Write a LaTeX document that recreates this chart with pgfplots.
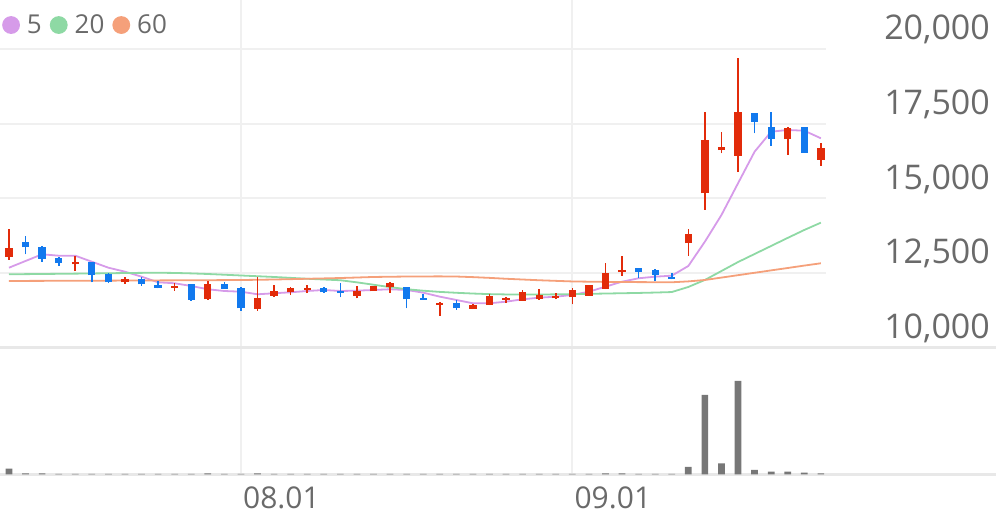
\documentclass[border=0pt]{standalone}
\usepackage{pgfplots}
\pgfplotsset{compat=1.18}
\usepackage{pgfplotstable}
\usepackage{fontspec}
\setmainfont{Open Sans}

\definecolor{up}{HTML}{E22B0A}
\definecolor{down}{HTML}{1279EE}
\definecolor{maA}{HTML}{D69BE9}
\definecolor{maB}{HTML}{8ED9A4}
\definecolor{maC}{HTML}{F5A07A}
\definecolor{vol}{HTML}{777777}
\definecolor{gridc}{HTML}{F0F0F0}
\definecolor{basec}{HTML}{E8E8E8}
\definecolor{txt}{HTML}{6A6A6A}

% rising days (red): open, high, low, close
\pgfplotstableread{
i o h l c
0 13050 13980 12940 13350
4 12795 13085 12570 12880
7 12190 12360 12135 12295
10 12010 12180 11900 12070
12 11620 12245 11600 12125
15 11290 12380 11240 11675
16 11745 12100 11710 11910
17 11855 12045 11765 12010
18 11935 12100 11825 11990
21 11745 12070 11655 11910
22 11910 12080 11910 12080
23 12025 12210 11845 12160
26 11430 11540 11065 11490
28 11300 11460 11295 11430
29 11430 11800 11430 11735
30 11600 11710 11510 11655
31 11575 11935 11575 11875
32 11620 11960 11600 11765
33 11655 11825 11620 11735
34 11690 11990 11455 11935
35 11745 12110 11740 12100
36 11970 12830 11965 12495
37 12530 13085 12415 12605
41 13500 13970 13075 13800
42 15175 17890 14615 16960
43 16625 17220 16515 16715
44 16425 19700 15880 17910
47 16985 17385 16460 17355
49 16290 16870 16090 16685
}\upc

% falling days (blue)
\pgfplotstableread{
i o h l c
1 13530 13750 13130 13365
2 13385 13410 12880 12975
3 13015 13050 12750 12830
5 12880 12885 12190 12435
6 12460 12515 12160 12190
8 12295 12380 12080 12125
9 12100 12235 11990 12010
11 12125 12135 11575 11600
13 12135 12210 11980 11980
14 12010 12025 11240 11320
19 12010 12045 11845 11855
20 11900 12180 11690 11825
24 12025 12025 11320 11620
25 11675 11800 11600 11600
27 11490 11600 11265 11320
38 12680 12680 12345 12545
39 12605 12630 12235 12435
40 12380 12495 12290 12295
45 17875 17875 17185 17575
46 17405 17890 16760 16985
48 17385 17390 16535 16535
}\downc

% moving averages 5 / 20 / 60
\pgfplotstableread{
i a b c
0 12681 12460 12236
1 12906 12465 12238
2 13130 12470 12240
3 13083 12476 12241
4 13083 12482 12243
5 12882 12488 12245
6 12681 12495 12247
7 12547 12502 12250
8 12380 12508 12252
9 12192 12512 12255
10 12159 12505 12257
11 12068 12490 12260
12 11958 12470 12262
13 11900 12445 12265
14 11877 12420 12268
15 11790 12395 12276
16 11824 12370 12285
17 11857 12340 12297
18 11900 12310 12310
19 11934 12285 12322
20 11900 12260 12335
21 11911 12190 12352
22 11934 12110 12370
23 11958 12030 12378
24 11934 11960 12385
25 11844 11910 12388
26 11710 11870 12390
27 11599 11840 12385
28 11488 11815 12365
29 11488 11795 12340
30 11542 11785 12310
31 11622 11780 12285
32 11676 11782 12260
33 11710 11788 12240
34 11767 11795 12220
35 11877 11805 12212
36 12045 11815 12205
37 12212 11825 12200
38 12326 11835 12198
39 12380 11848 12195
40 12413 11865 12192
41 12738 12035 12222
42 13553 12270 12269
43 14447 12570 12350
44 15510 12870 12430
45 16569 13140 12511
46 17239 13410 12591
47 17296 13680 12671
48 17272 13945 12752
49 17018 14190 12829
}\matab

\pgfplotstableread{
i v
0 171
1 30
2 30
3 15
4 15
5 15
6 15
7 15
8 15
9 15
10 15
11 15
12 30
13 15
14 12
15 25
16 15
17 15
18 15
19 15
20 15
21 15
22 15
23 15
24 15
25 15
26 15
27 15
28 15
29 15
30 15
31 15
32 15
33 15
34 12
35 15
36 30
37 30
38 15
39 15
40 15
41 225
42 2380
43 330
44 2800
45 130
46 80
47 80
48 50
49 30
}\voltab

\pgfplotsset{
  candle/.style 2 args={only marks, mark=none,
    mark options={draw opacity=0, fill opacity=0},
    color=#1, forget plot,
    error bars/.cd, y dir=plus, y explicit, error mark=none,
    error bar style={line width=#2}},
}

\begin{document}
\begin{tikzpicture}
\path[use as bounding box] (0pt,0pt) rectangle (996pt,519pt);

% price panel
\begin{axis}[
  at={(0pt,171.3pt)}, anchor=south west, scale only axis,
  width=826pt, height=347.7pt,
  xmin=-0.543, xmax=49.31, ymin=10000, ymax=21652,
  axis line style={draw=none}, major tick length=0pt,
  xtick={14,34}, xticklabels={}, xmajorgrids,
  ytick={10000,12500,15000,17500,20000}, ymajorgrids,
  grid style={draw=gridc, line width=2pt},
  scaled y ticks=false,
  yticklabel pos=right,
  yticklabel style={anchor=base east, inner sep=0pt, xshift=164pt, yshift=9.3pt,
    font=\fontsize{34}{40}\selectfont, text=txt},
  /pgf/number format/fixed,
  /pgf/number format/1000 sep={,},
  /pgf/number format/assume math mode=true,
  legend style={at={(0.0024,0.928)}, anchor=west, draw=none, fill=none,
    inner sep=0pt, legend columns=3,
    font=\fontsize{26}{30}\selectfont, text=txt,
    nodes={inner sep=0pt},
    /tikz/every odd column/.append style={column sep=7pt},
    /tikz/every even column/.append style={column sep=8pt}},
  legend image code/.code={\fill[#1] (8pt,0pt) circle (8pt);},
]
\addplot[color=maA, line width=1.8pt] table[x=i, y=a] {\matab};
\addlegendentry{5}
\addplot[color=maB, line width=1.8pt] table[x=i, y=b] {\matab};
\addlegendentry{20}
\addplot[color=maC, line width=1.8pt] table[x=i, y=c] {\matab};
\addlegendentry{60}

% wicks
\addplot[candle={up}{1.6pt}]
  table[x=i, y=l, y error expr=\thisrow{h}-\thisrow{l}] {\upc};
\addplot[candle={down}{1.6pt}]
  table[x=i, y=l, y error expr=\thisrow{h}-\thisrow{l}] {\downc};
% bodies
\addplot[candle={up}{7.3pt}]
  table[x=i, y=o, y error expr=\thisrow{c}-\thisrow{o}] {\upc};
\addplot[candle={down}{7.3pt}]
  table[x=i, y=c, y error expr=\thisrow{o}-\thisrow{c}] {\downc};
\end{axis}

% volume panel
\begin{axis}[
  at={(0pt,44.7pt)}, anchor=south west, scale only axis,
  width=996pt, height=126.6pt,
  xmin=-0.543, xmax=59.57, ymin=0, ymax=3798,
  axis y line=none, axis x line=box,
  axis line style={draw=basec, line width=2.5pt},
  major tick length=0pt,
  xtick={14,34}, xticklabels={08.01,09.01}, xmajorgrids,
  grid style={draw=gridc, line width=2pt},
  ytick=\empty,
  xticklabel style={anchor=base west, inner sep=0pt, xshift=2pt, yshift=-34pt,
    font=\fontsize{30}{34}\selectfont, text=txt},
]
\addplot[ybar, bar width=6.7pt, fill=vol, draw=none] table[x=i, y=v] {\voltab};
\end{axis}
\end{tikzpicture}
\end{document}
